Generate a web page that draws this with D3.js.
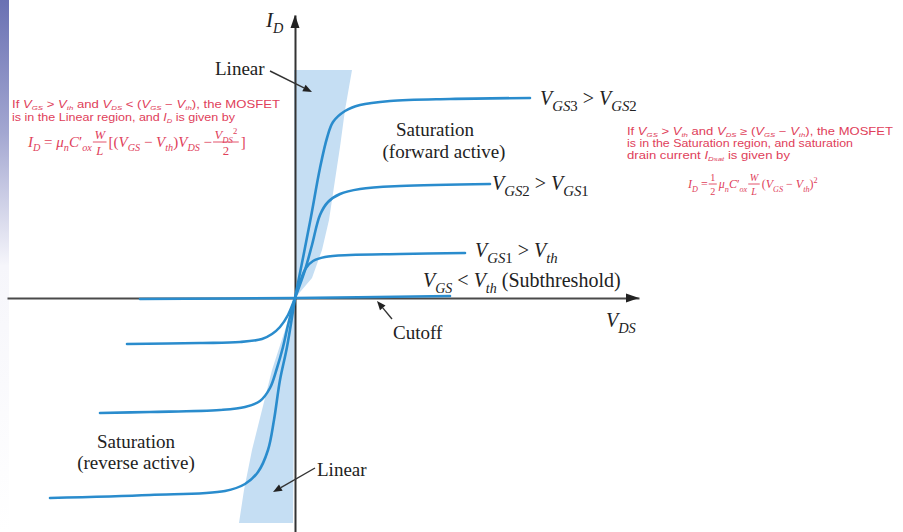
<!DOCTYPE html>
<html>
<head>
<meta charset="utf-8">
<script src="https://cdn.jsdelivr.net/npm/d3@7"></script>
<style>
  body { margin: 0; background: #fff; }
  svg { display: block; }
</style>
</head>
<body>
<svg id="chart" width="903" height="532"></svg>
<script>
// MOSFET output characteristics, V_DS (V) against I_D (mA)
const vgs3Curve = [[0,0],[0.375,3.8],[0.625,6.5],[0.8,8.0],[0.95,8.8],[1.25,9.35],[1.625,9.65],[2.375,9.85],[3.875,9.95],[5.875,10.0]];
const vgs2Curve = [[0,0],[0.25,1.4],[0.425,2.65],[0.625,4.15],[0.825,4.8],[1.125,5.2],[1.625,5.45],[2.625,5.6],[4.875,5.7]];
const vgs1Curve = [[0,0],[0.125,0.8],[0.275,1.5],[0.45,1.85],[0.75,2.05],[1.375,2.15],[2.625,2.2],[4.25,2.25]];
const subthresholdCurve = [[-3.875,-0.05],[0,0],[3.875,0.1]];
const reverse1Curve = [[0,0],[-0.175,-0.85],[-0.375,-1.45],[-0.575,-1.8],[-0.825,-2.05],[-1.375,-2.2],[-2.375,-2.25],[-4.2,-2.3]];
const reverse2Curve = [[0,0],[-0.175,-1.35],[-0.3,-2.45],[-0.45,-3.5],[-0.625,-4.5],[-0.875,-5.15],[-1.25,-5.45],[-1.875,-5.6],[-3.625,-5.7],[-4.875,-5.75]];
const reverse3Curve = [[0,0],[-0.2,-2.45],[-0.375,-4.1],[-0.525,-6.1],[-0.675,-7.6],[-0.925,-8.7],[-1.25,-9.3],[-1.75,-9.65],[-3.625,-9.85],[-6.125,-10.0]];

// Linear (ohmic) regions, forward and reverse
const linearForward = [[-0.025,11.4],[1.425,11.4],[1.25,9.4],[1.125,7.55],[1.0,5.9],[0.85,3.9],[0.675,2.4],[0.425,1.0],[0,0]];
const linearReverse = [[0,0],[-0.25,-1.6],[-0.575,-3.6],[-0.825,-5.6],[-1.075,-7.6],[-1.275,-9.6],[-1.4,-11.25],[-0.05,-11.25]];

const xDomain = [-7.2, 8.6];
const yDomain = [-11.7, 14.15];

const svg = d3.select("#chart");
const W = 903, H = 532;

// soft blue strip on the left edge
const defs = svg.append("defs");
const grad = defs.append("linearGradient").attr("id", "edge").attr("x1", 0).attr("y1", 0).attr("x2", 0).attr("y2", 1);
grad.append("stop").attr("offset", "0%").attr("stop-color", "#6a71b3");
grad.append("stop").attr("offset", "25%").attr("stop-color", "#a3a7d1");
grad.append("stop").attr("offset", "50%").attr("stop-color", "#f6f6fb");
grad.append("stop").attr("offset", "100%").attr("stop-color", "#ffffff");
svg.append("rect").attr("x", 0).attr("y", 0).attr("width", 9).attr("height", H).attr("fill", "url(#edge)");

const x = d3.scaleLinear().domain(xDomain).range([7, 639]);
const y = d3.scaleLinear().domain(yDomain).range([532, 15]);

const poly = d3.line().x(d => x(d[0])).y(d => y(d[1])).curve(d3.curveLinearClosed);
const smooth = d3.line().x(d => x(d[0])).y(d => y(d[1])).curve(d3.curveCatmullRom.alpha(0.5));

// shaded linear regions
svg.selectAll("path.region").data([linearForward, linearReverse]).join("path")
  .attr("class", "region").attr("d", poly).attr("fill", "#c5def3");

// axes (no ticks, just the lines)
const xAxis = svg.append("g").attr("transform", `translate(0,${y(0)})`)
  .call(d3.axisBottom(x).tickValues([]).tickSizeOuter(0));
xAxis.select(".domain").attr("stroke", "#4a4a4a").attr("stroke-width", 2);
const yAxis = svg.append("g").attr("transform", `translate(${x(0)},0)`)
  .call(d3.axisLeft(y).tickValues([]).tickSizeOuter(0));
yAxis.select(".domain").attr("stroke", "#333").attr("stroke-width", 2);

// arrow heads on axes
svg.append("path").attr("fill", "#222")
  .attr("d", `M${x(xDomain[1])},${y(0)} l-13,-4.5 l0,9 z`);
svg.append("path").attr("fill", "#222")
  .attr("d", `M${x(0)},${y(yDomain[1])} l-4.5,13 l9,0 z`);

// characteristic curves
const curves = [vgs3Curve, vgs2Curve, vgs1Curve, reverse1Curve, reverse2Curve, reverse3Curve, subthresholdCurve];
svg.selectAll("path.curve").data(curves).join("path")
  .attr("class", "curve").attr("d", smooth)
  .attr("fill", "none").attr("stroke", "#2a8ccd").attr("stroke-width", 2.6)
  .attr("stroke-linecap", "round");

// ---- text helpers ----
// markup: *toggles italic*, _{sub}, ^{sup}; italics may also appear inside sub/sup
function rich(parent, px, py, src, opt) {
  const fs = opt.size;
  const t = parent.append("text").attr("x", px).attr("y", py)
    .attr("font-family", opt.family).attr("font-size", fs).attr("fill", opt.color || "#222")
    .attr("text-anchor", opt.anchor || "start");
  const re = /(_\{[^}]*\}|\^\{[^}]*\}|\*|[^_^*]+)/g;
  let italic = false, shift = 0, m;
  const emit = (content, size, target) => {
    t.append("tspan").attr("dy", target - shift).attr("font-size", size)
      .attr("font-style", italic ? "italic" : "normal").text(content);
    shift = target;
  };
  while ((m = re.exec(src)) !== null) {
    const tok = m[0];
    if (tok === "*") { italic = !italic; continue; }
    if (tok.startsWith("_{") || tok.startsWith("^{")) {
      const isSub = tok[0] === "_";
      const size = fs * (isSub ? (opt.subScale || 0.68) : 0.68);
      const target = isSub ? fs * (opt.subDrop || 0.3) : -fs * 0.42;
      tok.slice(2, -1).split(/(\*)/).forEach(part => {
        if (part === "*") italic = !italic;
        else if (part) emit(part, size, target);
      });
    } else {
      emit(tok, fs, 0);
    }
  }
  if (opt.width) t.attr("textLength", opt.width).attr("lengthAdjust", "spacingAndGlyphs");
  return t;
}

const serif = "'Liberation Serif', 'Times New Roman', serif";
const sans = "'Liberation Sans', Arial, sans-serif";
const red = "#e0405a";

// axis titles
rich(svg, 266, 27, "*I*_{*D*}", { family: serif, size: 21 });
rich(svg, 606, 327, "*V*_{*DS*}", { family: serif, size: 20, subScale: 0.72 });

// curve labels
const lab = { family: serif, size: 20, subScale: 0.74 };
rich(svg, 540, 105, "*V*_{*GS*3} > *V*_{*GS*2}", lab);
rich(svg, 492, 190, "*V*_{*GS*2} > *V*_{*GS*1}", lab);
rich(svg, 475, 257, "*V*_{*GS*1} > *V*_{*th*}", lab);
rich(svg, 423, 287, "*V*_{*GS*} < *V*_{*th*} (Subthreshold)", { ...lab, subScale: 0.7 });

// region labels
const reg = { family: serif, size: 19 };
rich(svg, 435, 136, "Saturation", { ...reg, anchor: "middle" });
rich(svg, 444, 158, "(forward active)", { ...reg, anchor: "middle" });
rich(svg, 136, 448, "Saturation", { ...reg, anchor: "middle" });
rich(svg, 136, 469, "(reverse active)", { ...reg, anchor: "middle" });
rich(svg, 215, 75, "Linear", reg);
rich(svg, 317, 476, "Linear", reg);
rich(svg, 393, 339, "Cutoff", reg);

// pointer arrows
function pointer(x1, y1, x2, y2) {
  const a = Math.atan2(y2 - y1, x2 - x1), L = 9, w = 3.6;
  const bx = x2 - L * Math.cos(a), by = y2 - L * Math.sin(a);
  svg.append("line").attr("x1", x1).attr("y1", y1).attr("x2", bx).attr("y2", by)
    .attr("stroke", "#333").attr("stroke-width", 1.4);
  svg.append("path").attr("fill", "#222").attr("d",
    `M${x2},${y2} L${bx + w * Math.sin(a)},${by - w * Math.cos(a)} L${bx - w * Math.sin(a)},${by + w * Math.cos(a)} Z`);
}
pointer(270, 71, 312, 92);
pointer(392, 319, 377, 301);
pointer(315, 468, 273, 492);

// ---- red condition notes ----
const note = { family: sans, size: 10.2, color: red, subScale: 0.6, subDrop: 0.22 };
rich(svg, 12, 108, "If *V*_{*GS*} > *V*_{*th*} and *V*_{*DS*} < (*V*_{*GS*} − *V*_{*th*}), the MOSFET", { ...note, width: 268 });
rich(svg, 12, 121, "is in the Linear region, and *I*_{*D*} is given by", { ...note, width: 223 });

rich(svg, 627, 135, "If *V*_{*GS*} > *V*_{*th*} and *V*_{*DS*} ≥ (*V*_{*GS*} − *V*_{*th*}), the MOSFET", { ...note, width: 266 });
rich(svg, 627, 147, "is in the Saturation region, and saturation", { ...note, width: 226 });
rich(svg, 627, 159, "drain current *I*_{*Dsat*} is given by", { ...note, width: 163 });

// formula layout: pieces placed left to right, fractions stacked
function formula(px, cy, pieces, size) {
  const g = svg.append("g");
  let cx = px;
  const o = { family: serif, size: size, color: red };
  pieces.forEach(p => {
    if (typeof p === "string") {
      const t = rich(g, cx, cy + size * 0.33, p, o);
      cx += t.node().getComputedTextLength() + 1;
    } else {
      const sz = size * 0.85;
      const num = rich(g, 0, cy - 3, p[0], { ...o, size: sz, anchor: "middle" });
      const den = rich(g, 0, cy + sz * 0.85 + 2, p[1], { ...o, size: sz, anchor: "middle" });
      const w = Math.max(num.node().getComputedTextLength(), den.node().getComputedTextLength()) + 3;
      num.attr("x", cx + w / 2); den.attr("x", cx + w / 2);
      g.append("line").attr("x1", cx).attr("x2", cx + w).attr("y1", cy).attr("y2", cy)
        .attr("stroke", red).attr("stroke-width", 0.9);
      cx += w + 2;
    }
  });
  return g;
}
formula(28, 142, ["*I*_{*D*} = *μ*_{*n*}*C*′_{*ox*} ", ["*W*", "*L*"], " [(*V*_{*GS*} − *V*_{*th*})*V*_{*DS*} − ", ["*V*_{*DS*}^{2}", "2"], "]"], 15);
formula(688, 184, ["*I*_{*D*} = ", ["1", "2"], " *μ*_{*n*}*C*′_{*ox*} ", ["*W*", "*L*"], " (*V*_{*GS*} − *V*_{*th*})^{2}"], 12);
</script>
</body>
</html>
